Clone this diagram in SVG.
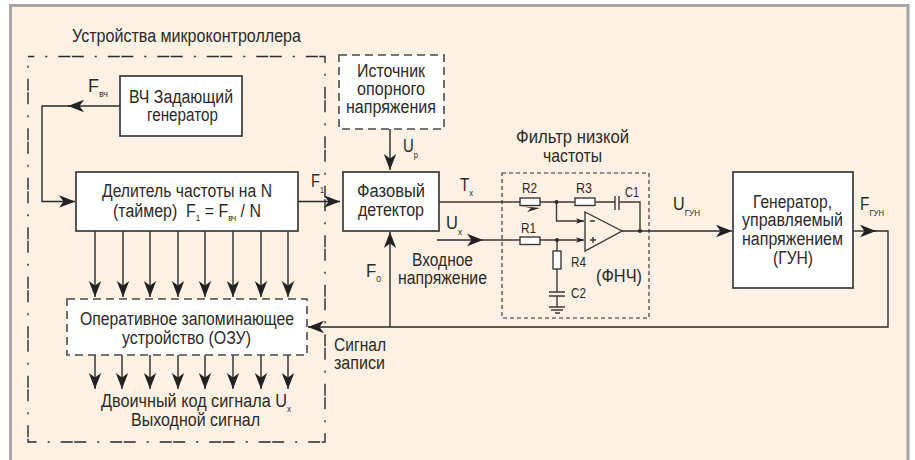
<svg xmlns="http://www.w3.org/2000/svg" width="915" height="460" viewBox="0 0 915 460">
<style>
text{font-family:"Liberation Sans",Arial,sans-serif;fill:#2c2a29;font-size:18px}
tspan{font-size:9px}
.r{font-size:15px}
.box{fill:#fff;stroke:#3a3a3a;stroke-width:1.7}
.dbox{fill:#fff;stroke:#4a4a4a;stroke-width:1.6;stroke-dasharray:8 5}
.w{fill:none;stroke:#2a2a2a;stroke-width:1.4}
.t{fill:none;stroke:#3f3a36;stroke-width:1.4}
.e{fill:#fff;stroke:#3a3a3a;stroke-width:1.4}
</style>
<defs>
<marker id="a" markerUnits="userSpaceOnUse" markerWidth="17" markerHeight="14" refX="16" refY="7" orient="auto"><path d="M16 7L0 0.800L4.500 7L0 13.200Z" fill="#222"/></marker>
<marker id="b" markerUnits="userSpaceOnUse" markerWidth="9" markerHeight="6" refX="8" refY="3" orient="auto"><path d="M8 3L0 0.300L2 3L0 5.700Z" fill="#222"/></marker>
</defs>
<rect width="915" height="460" fill="#fff"/>
<path d="M10.500 460V5.500H908V460" fill="#fff1e3" stroke="#a5a5a5" stroke-width="3"/>
<rect x="28" y="56.500" width="297" height="385.500" fill="none" stroke="#2a2a2a" stroke-width="1.4" stroke-dasharray="12 1.500 12 11 2 11" stroke-dashoffset="19.200"/>
<text x="72" y="42" textLength="229" lengthAdjust="spacingAndGlyphs">Устройства микроконтроллера</text>

<g id="connectors">
<path class="w" marker-end="url(#a)" d="M120 106H68"/>
<path class="w" marker-end="url(#a)" d="M75 106H42V201.500H75"/>
<path class="w" marker-end="url(#a)" d="M298 201.500H340"/>
<path class="w" marker-end="url(#a)" d="M95 231V297"/>
<path class="w" marker-end="url(#a)" d="M123 231V297"/>
<path class="w" marker-end="url(#a)" d="M150 231V297"/>
<path class="w" marker-end="url(#a)" d="M178 231V297"/>
<path class="w" marker-end="url(#a)" d="M205 231V297"/>
<path class="w" marker-end="url(#a)" d="M233 231V297"/>
<path class="w" marker-end="url(#a)" d="M261 231V297"/>
<path class="w" marker-end="url(#a)" d="M288 231V297"/>
<path class="w" marker-end="url(#a)" d="M95 355V389"/>
<path class="w" marker-end="url(#a)" d="M122 355V389"/>
<path class="w" marker-end="url(#a)" d="M150 355V389"/>
<path class="w" marker-end="url(#a)" d="M178 355V389"/>
<path class="w" marker-end="url(#a)" d="M205 355V389"/>
<path class="w" marker-end="url(#a)" d="M233 355V389"/>
<path class="w" marker-end="url(#a)" d="M261 355V389"/>
<path class="w" marker-end="url(#a)" d="M288 355V389"/>
<path class="w" marker-end="url(#a)" d="M390 129V170"/>
<path class="w" marker-end="url(#a)" d="M390 327V232"/>
<path class="w" marker-end="url(#a)" d="M853 231H876"/>
<path class="w" marker-end="url(#a)" d="M870 231H888V327H308"/>
<path class="w" marker-end="url(#a)" d="M622 231H732"/>
<path class="w" marker-end="url(#a)" d="M437 240H483"/>
<path class="t" d="M483 240H520"/>
<path class="t" d="M439 202H520"/>
</g>

<g id="filter">
<rect x="502" y="173" width="147" height="145" fill="none" stroke="#2a2a2a" stroke-width="1.1" stroke-dasharray="4 3"/>
<path class="t" d="M540 202H575M595 202H615M619 202H640V231"/>
<path class="t" marker-end="url(#b)" d="M556.500 202V221H584"/>
<path class="t" marker-end="url(#b)" d="M540 240H584"/>
<path class="t" d="M557 240V251M557 269V292M557 296V307"/>
<path class="t" d="M615 196V210M619 196V210M549 292H565M549 296H565M549 307H565M551 310H563M555 313H560"/>
<path d="M520 206L540 208L527 212L531 208Z" fill="#2a2a2a"/>
<rect class="e" x="520" y="198" width="20" height="7.500"/>
<rect class="e" x="575" y="198" width="20" height="7.500"/>
<rect class="e" x="520" y="237" width="20" height="7.500"/>
<rect class="e" x="553" y="251" width="8" height="18"/>
<path d="M585 212L622 231L585 251Z" fill="#fff1e3" stroke="#3a3a3a" stroke-width="1.4"/>
<path class="t" d="M590 221H595M590 240H596M593 237V243"/>
<circle cx="556.500" cy="202" r="2" fill="#2a2a2a"/>
<circle cx="557" cy="240" r="2" fill="#2a2a2a"/>
<circle cx="640" cy="231" r="2" fill="#2a2a2a"/>
<text x="516" y="143" textLength="113" lengthAdjust="spacingAndGlyphs">Фильтр низкой</text>
<text x="543" y="162" textLength="59" lengthAdjust="spacingAndGlyphs">частоты</text>
<text class="r" x="522" y="193" textLength="15" lengthAdjust="spacingAndGlyphs">R2</text>
<text class="r" x="576" y="193" textLength="16" lengthAdjust="spacingAndGlyphs">R3</text>
<text class="r" x="625" y="197" textLength="14" lengthAdjust="spacingAndGlyphs">C1</text>
<text class="r" x="521" y="233" textLength="15" lengthAdjust="spacingAndGlyphs">R1</text>
<text class="r" x="571" y="267" textLength="15" lengthAdjust="spacingAndGlyphs">R4</text>
<text class="r" x="571" y="298" textLength="15" lengthAdjust="spacingAndGlyphs">C2</text>
<text x="596" y="282" textLength="46" lengthAdjust="spacingAndGlyphs">(ФНЧ)</text>
</g>

<g id="hf-generator">
<rect class="box" x="120" y="76" width="122" height="60"/>
<text x="129" y="103" textLength="104" lengthAdjust="spacingAndGlyphs">ВЧ Задающий</text>
<text x="147" y="121" textLength="71" lengthAdjust="spacingAndGlyphs">генератор</text>
</g>
<g id="divider">
<rect class="box" x="76" y="172" width="222" height="59"/>
<text x="102" y="197" textLength="170" lengthAdjust="spacingAndGlyphs">Делитель частоты на N</text>
<text x="113" y="217" textLength="148" lengthAdjust="spacingAndGlyphs" xml:space="preserve">(таймер)  F<tspan dy="4">1</tspan><tspan dy="-4" style="font-size:18px"> = F</tspan><tspan dy="4">вч</tspan><tspan dy="-4" style="font-size:18px"> / N</tspan></text>
</g>
<g id="ram">
<rect class="dbox" x="67" y="299" width="240" height="56"/>
<text x="80" y="325" textLength="214" lengthAdjust="spacingAndGlyphs">Оперативное запоминающее</text>
<text x="122" y="344" textLength="129" lengthAdjust="spacingAndGlyphs">устройство (ОЗУ)</text>
</g>
<g id="reference">
<rect class="dbox" x="339" y="55" width="105" height="74"/>
<text x="357" y="77" textLength="68" lengthAdjust="spacingAndGlyphs">Источник</text>
<text x="357" y="95" textLength="68" lengthAdjust="spacingAndGlyphs">опорного</text>
<text x="346" y="113" textLength="90" lengthAdjust="spacingAndGlyphs">напряжения</text>
</g>
<g id="phase-detector">
<rect class="box" x="343" y="172" width="96" height="59"/>
<text x="357" y="197" textLength="68" lengthAdjust="spacingAndGlyphs">Фазовый</text>
<text x="358" y="216" textLength="66" lengthAdjust="spacingAndGlyphs">детектор</text>
</g>
<g id="vco">
<rect class="box" x="733" y="172" width="120" height="116"/>
<text x="753" y="208" textLength="79" lengthAdjust="spacingAndGlyphs">Генератор,</text>
<text x="742" y="226" textLength="101" lengthAdjust="spacingAndGlyphs">управляемый</text>
<text x="742" y="245" textLength="101" lengthAdjust="spacingAndGlyphs">напряжением</text>
<text x="773" y="264" textLength="40" lengthAdjust="spacingAndGlyphs">(ГУН)</text>
</g>
<g id="labels">
<text x="88" y="92" textLength="20" lengthAdjust="spacingAndGlyphs">F<tspan dy="5">вч</tspan></text>
<text x="311" y="187" textLength="13" lengthAdjust="spacingAndGlyphs">F<tspan dy="6">1</tspan></text>
<text x="403" y="152" textLength="15" lengthAdjust="spacingAndGlyphs">U<tspan dy="6">p</tspan></text>
<text x="460" y="191" textLength="13" lengthAdjust="spacingAndGlyphs">T<tspan dy="5">x</tspan></text>
<text x="446" y="229" textLength="16" lengthAdjust="spacingAndGlyphs">U<tspan dy="6">x</tspan></text>
<text x="412" y="266" textLength="61" lengthAdjust="spacingAndGlyphs">Входное</text>
<text x="398" y="284" textLength="89" lengthAdjust="spacingAndGlyphs">напряжение</text>
<text x="366" y="277" textLength="15" lengthAdjust="spacingAndGlyphs">F<tspan dy="5">0</tspan></text>
<text x="673" y="210" textLength="27" lengthAdjust="spacingAndGlyphs">U<tspan dy="6">ГУН</tspan></text>
<text x="860" y="210" textLength="24" lengthAdjust="spacingAndGlyphs">F<tspan dy="6">ГУН</tspan></text>
<text x="334" y="351" textLength="52" lengthAdjust="spacingAndGlyphs">Сигнал</text>
<text x="334" y="369" textLength="51" lengthAdjust="spacingAndGlyphs">записи</text>
<text x="101" y="407" textLength="190" lengthAdjust="spacingAndGlyphs">Двоичный код сигнала U<tspan dy="5">x</tspan></text>
<text x="131" y="426" textLength="129" lengthAdjust="spacingAndGlyphs">Выходной сигнал</text>
</g>
</svg>
